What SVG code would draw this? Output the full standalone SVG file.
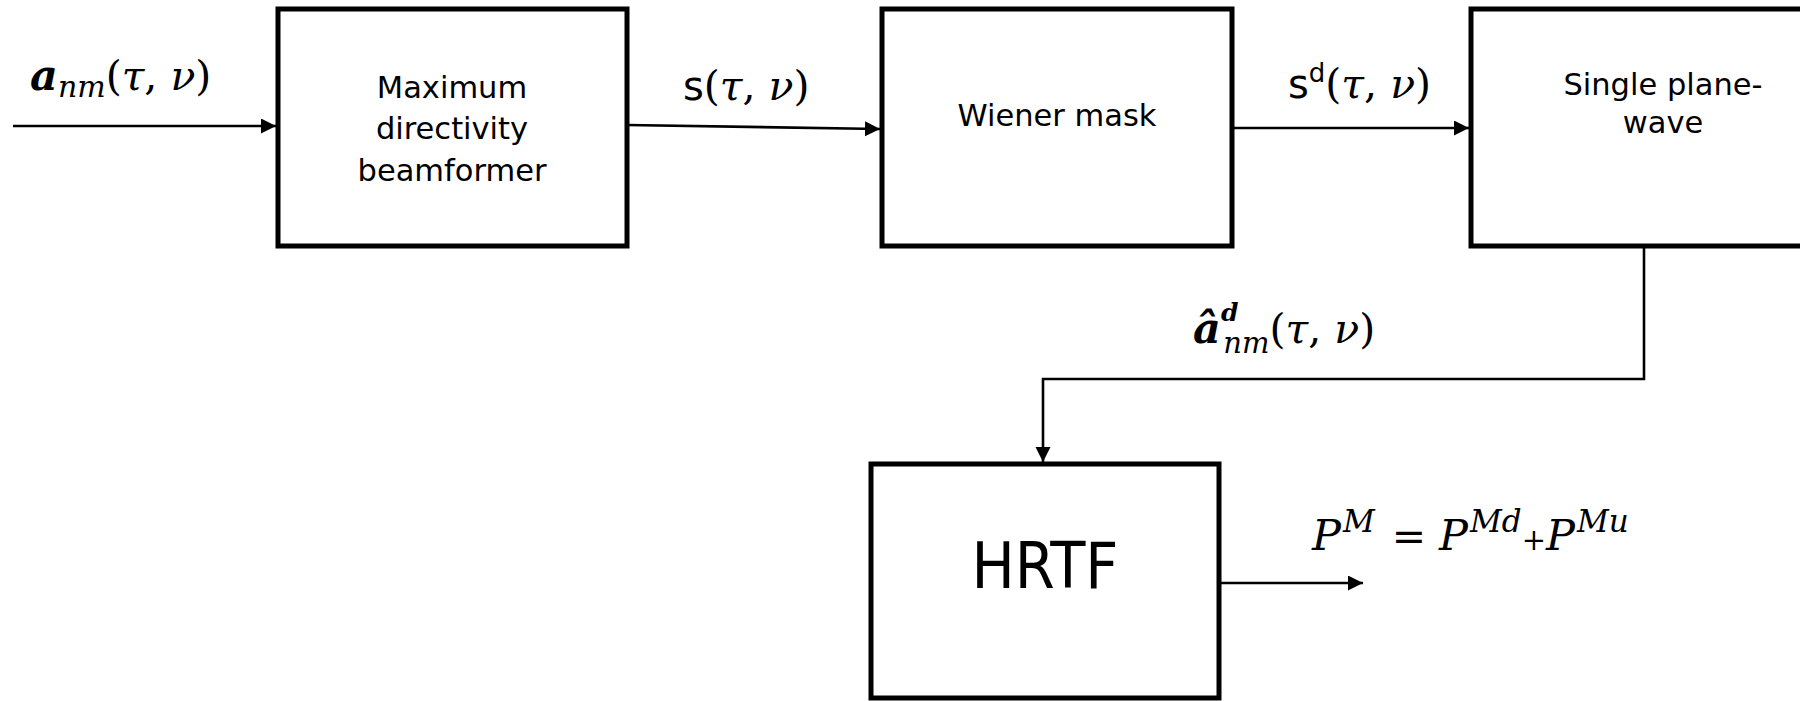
<svg xmlns="http://www.w3.org/2000/svg" width="1800" height="701" viewBox="0 0 1800 701">
<style>
.box{fill:#fff;stroke:#000;stroke-width:5}
.lbl{font-family:"DejaVu Sans",sans-serif;font-size:30.5px;fill:#000;text-anchor:middle}
.big{font-family:"DejaVu Sans Condensed","DejaVu Sans",sans-serif;font-size:64px;fill:#000;text-anchor:middle}
.conn{stroke:#000;stroke-width:2.6;fill:none}
.m{font-family:"DejaVu Serif",serif;font-size:41px;fill:#000}
.it{font-style:italic}
.bi{font-style:italic;font-weight:bold}
.sans{font-family:"DejaVu Sans",sans-serif;font-style:normal}
</style>
<defs>
<marker id="ah" markerUnits="userSpaceOnUse" markerWidth="16" markerHeight="16" refX="15" refY="7.5" orient="auto">
<path d="M0,0 L15,7.5 L0,15 Z" fill="#000"/>
</marker>
</defs>
<rect width="1800" height="701" fill="#fff"/>
<g id="connectors">
<line class="conn" x1="13" y1="126" x2="276" y2="126" marker-end="url(#ah)"/>
<line class="conn" x1="627" y1="125" x2="880" y2="129" marker-end="url(#ah)"/>
<line class="conn" x1="1232" y1="128" x2="1469" y2="128" marker-end="url(#ah)"/>
<path class="conn" d="M1644,246 V379 H1043 V462" marker-end="url(#ah)"/>
<line class="conn" x1="1219" y1="583" x2="1363" y2="583" marker-end="url(#ah)"/>
</g>
<g id="node-beamformer">
<rect class="box" x="278" y="9" width="349" height="237"/>
<text class="lbl" x="452" y="98">Maximum</text>
<text class="lbl" x="452" y="139">directivity</text>
<text class="lbl" x="452" y="181">beamformer</text>
</g>
<g id="node-wiener">
<rect class="box" x="882" y="9" width="350" height="237"/>
<text class="lbl" x="1057" y="126">Wiener mask</text>
</g>
<g id="node-planewave">
<rect class="box" x="1471" y="9" width="340" height="237"/>
<text class="lbl" x="1663" y="95">Single plane-</text>
<text class="lbl" x="1663" y="133">wave</text>
</g>
<g id="node-hrtf">
<rect class="box" x="871" y="464" width="348" height="234"/>
<text class="big" x="1045" y="588">HRTF</text>
</g>
<g id="labels">
<text class="m" x="30" y="90"><tspan class="bi" font-size="43">a</tspan><tspan class="it" font-size="30" dy="7">nm</tspan><tspan dy="-7">(</tspan><tspan class="it">τ</tspan>, <tspan class="it">ν</tspan>)</text>
<text class="m" x="683" y="100"><tspan class="sans" font-size="40">s</tspan>(<tspan class="it">τ</tspan>, <tspan class="it">ν</tspan>)</text>
<text class="m" x="1288" y="98"><tspan class="sans" font-size="40">s</tspan><tspan class="sans" font-size="26" dy="-16">d</tspan><tspan dy="16">(</tspan><tspan class="it">τ</tspan>, <tspan class="it">ν</tspan>)</text>
<text class="m" x="1193" y="343"><tspan class="bi" font-size="43">â</tspan><tspan class="bi" font-size="25" dy="-22">d</tspan><tspan class="it" font-size="29" dx="-15" dy="32">nm</tspan><tspan dy="-10">(</tspan><tspan class="it">τ</tspan>, <tspan class="it">ν</tspan>)</text>
<text class="m" x="1312" y="550"><tspan class="it" font-size="43">P</tspan><tspan class="it" font-size="31" dx="2" dy="-18">M</tspan><tspan dx="4" dy="18"> = </tspan><tspan class="it" font-size="43">P</tspan><tspan class="it" font-size="31" dx="2" dy="-18">Md</tspan><tspan font-size="29" dy="18">+</tspan><tspan class="it" font-size="43">P</tspan><tspan class="it" font-size="31" dx="2" dy="-18">Mu</tspan></text>
</g>
</svg>
